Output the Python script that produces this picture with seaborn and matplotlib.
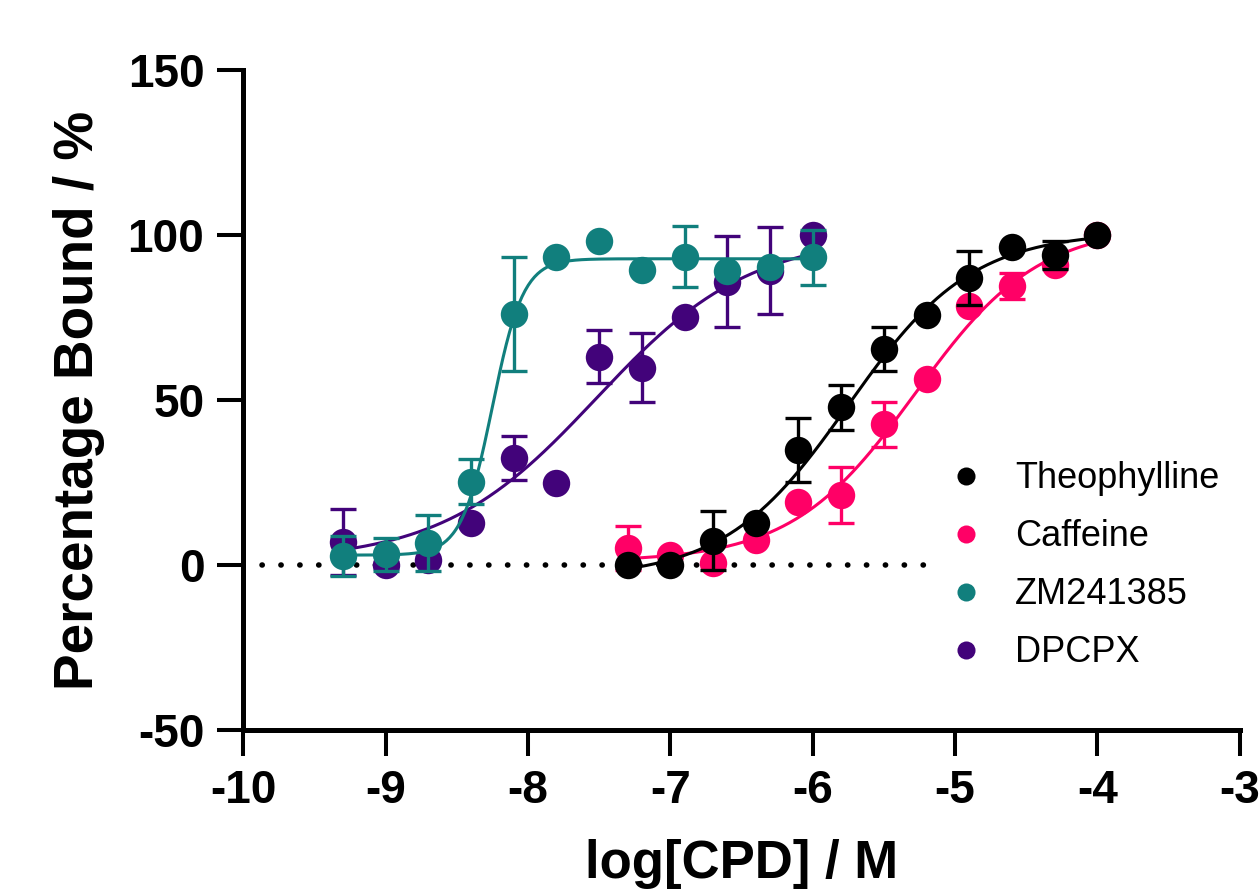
import numpy as np
import pandas as pd
import matplotlib
matplotlib.use("Agg")
import matplotlib.pyplot as plt
import seaborn as sns
from matplotlib.lines import Line2D

# ---------------- data ----------------
names = ["Theophylline", "Caffeine", "ZM241385", "DPCPX"]
colors = ["#000000", "#ff0066", "#117f7d", "#42037a"]

x_theo = [-7.3, -7.0, -6.7, -6.4, -6.1, -5.8, -5.5, -5.2, -4.9, -4.6, -4.3, -4.0]
y_theo = [0.0, 0.0, 7.4, 12.7, 34.8, 47.8, 65.4, 75.8, 86.9, 96.5, 93.9, 100.0]
e_theo = [0, 0, 9.0, 0, 9.6, 6.8, 6.6, 0, 8.2, 0, 4.2, 0]

x_caff = [-7.3, -7.0, -6.7, -6.4, -6.1, -5.8, -5.5, -5.2, -4.9, -4.6, -4.3, -4.0]
y_caff = [5.1, 3.0, 0.6, 7.6, 19.2, 21.2, 42.7, 56.4, 78.5, 84.5, 90.9, 100.0]
e_caff = [6.6, 0, 0, 0, 0, 8.6, 6.8, 0, 0, 4.0, 0, 0]

x_zm = [-9.3, -9.0, -8.7, -8.4, -8.1, -7.8, -7.5, -7.2, -6.9, -6.6, -6.3, -6.0]
y_zm = [2.7, 3.3, 6.6, 25.2, 76.0, 93.3, 98.3, 89.4, 93.4, 89.2, 90.4, 93.3]
e_zm = [6.0, 5.0, 8.5, 6.8, 17.3, 0, 0, 0, 9.3, 0, 0, 8.3]

x_dpcpx = [-9.3, -9.0, -8.7, -8.4, -8.1, -7.8, -7.5, -7.2, -6.9, -6.6, -6.3, -6.0]
y_dpcpx = [7.0, 0.0, 1.5, 12.8, 32.4, 24.8, 63.1, 59.8, 75.2, 85.9, 89.2, 100.0]
e_dpcpx = [10.0, 0, 0, 0, 6.7, 0, 8.0, 10.4, 0, 13.8, 13.2, 0]

# fitted 4-parameter logistic curves: bottom, top, logEC50, hill
fit_bottom = [-4.0, 1.0, 3.0, 1.0]
fit_top = [101.0, 103.0, 92.8, 100.0]
fit_logec50 = [-5.75, -5.28, -8.25, -7.52]
fit_hill = [1.0, 1.0, 4.0, 0.8]

xs = [x_theo, x_caff, x_zm, x_dpcpx]
ys = [y_theo, y_caff, y_zm, y_dpcpx]
es = [e_theo, e_caff, e_zm, e_dpcpx]

x_ticks = [-10, -9, -8, -7, -6, -5, -4, -3]
y_ticks = [-50, 0, 50, 100, 150]
x_label = "log[CPD] / M"
y_label = "Percentage Bound / %"

# ---------------- style ----------------
sns.set_theme(style="ticks")
plt.rcParams["font.family"] = ["Liberation Sans", "DejaVu Sans"]
for key in ["text.color", "axes.labelcolor", "xtick.color", "ytick.color", "axes.edgecolor"]:
    plt.rcParams[key] = "black"

fig = plt.figure(figsize=(12.6, 8.92), dpi=100)
ax = fig.add_axes([0.193, 0.1816, 0.791, 0.7399])

# zero reference line (dotted)
ax.plot([-9.87, -5.2], [0, 0], color="black", linestyle=(0, (0.05, 3.35)),
        linewidth=4.0, dash_capstyle="round", zorder=1)

order = [3, 2, 1, 0]  # draw DPCPX first, Theophylline last
for k, i in enumerate(order):
    zb = 2 + 3 * k
    c = colors[i]
    x = np.array(xs[i]); y = np.array(ys[i]); e = np.array(es[i])
    # fitted curve
    xc = np.linspace(min(x), max(x), 300)
    yc = fit_bottom[i] + (fit_top[i] - fit_bottom[i]) / (1 + 10 ** ((fit_logec50[i] - xc) * fit_hill[i]))
    sns.lineplot(x=xc, y=yc, color=c, linewidth=2.2, ax=ax, zorder=zb, legend=False)
    # error bars
    m = e > 0
    ax.errorbar(x[m], y[m], yerr=e[m], fmt="none", ecolor=c, elinewidth=2.4,
                capsize=9.5, capthick=2.4, zorder=zb + 1)
    # points
    sns.scatterplot(x=x, y=y, color=c, s=390, linewidth=0, ax=ax, zorder=zb + 2,
                    legend=False)

ax.set_xlim(-10, -3)
ax.set_ylim(-50, 150)
ax.set_xticks(x_ticks)
ax.set_yticks(y_ticks)
ax.set_xticklabels([str(t) for t in x_ticks])
ax.set_yticklabels([str(t) for t in y_ticks])

for side in ["top", "right"]:
    ax.spines[side].set_visible(False)
for side in ["left", "bottom"]:
    ax.spines[side].set_linewidth(3.6)
    ax.spines[side].set_color("black")

ax.tick_params(axis="both", which="major", length=19, width=2.9, color="black",
               labelcolor="black", labelsize=33, pad=9)
for lab in ax.get_xticklabels() + ax.get_yticklabels():
    lab.set_fontweight("bold")

ax.set_xlabel(x_label, fontsize=38, fontweight="bold", labelpad=19, color="black")
ax.set_ylabel(y_label, fontsize=39.5, fontweight="bold", labelpad=16, color="black")

# legend
leg_handles = [Line2D([0], [0], marker="o", linestyle="none", markersize=13,
                      markerfacecolor=colors[i], markeredgewidth=0) for i in range(4)]
leg = ax.legend(leg_handles, names, loc="upper left", bbox_to_anchor=(0.758, 0.483),
                bbox_transform=fig.transFigure, frameon=False, fontsize=26,
                handlelength=0.6, handletextpad=1.06, labelspacing=0.64,
                borderpad=0, borderaxespad=0)
for t in leg.get_texts():
    t.set_color("black")

fig.savefig("out.png", dpi=100)
